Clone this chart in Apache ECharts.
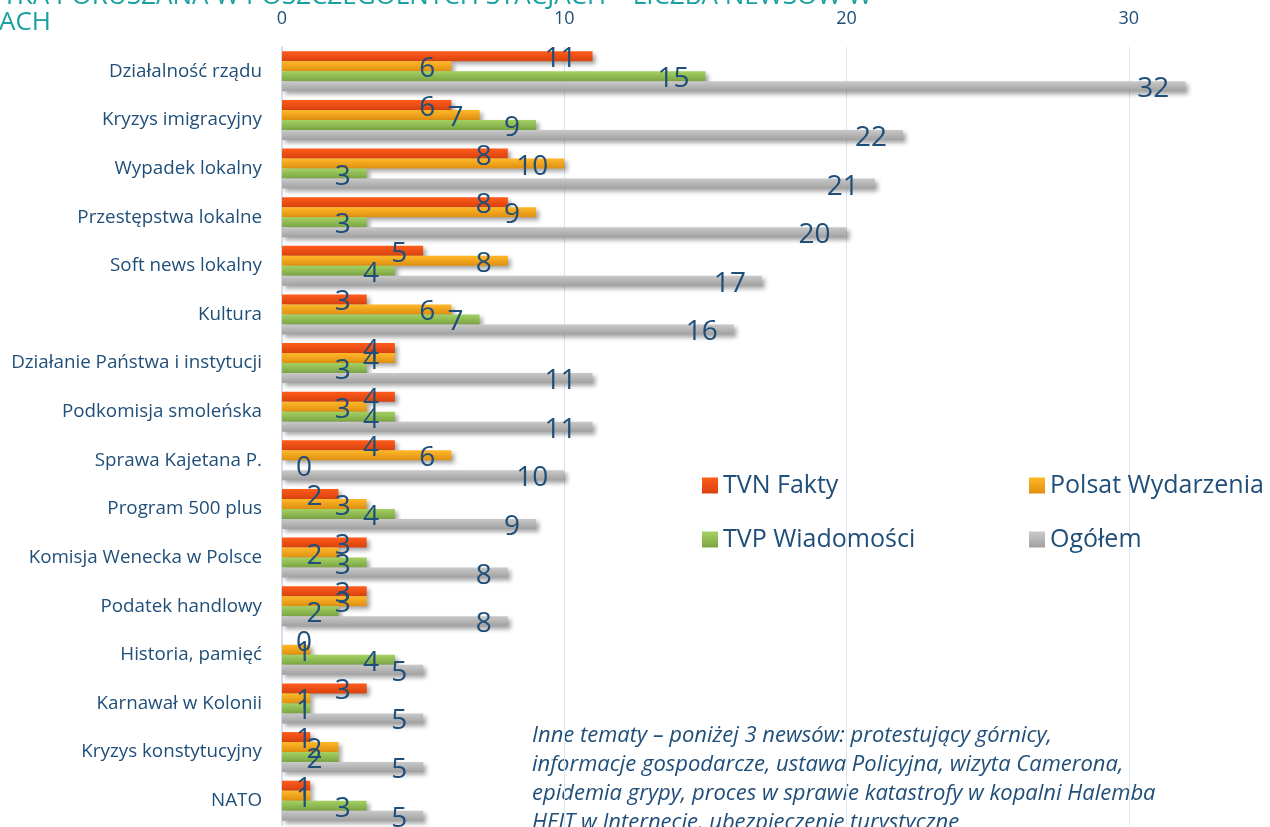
<!DOCTYPE html>
<html>
<head>
<meta charset="utf-8">
<script src="https://cdn.jsdelivr.net/npm/echarts@6/dist/echarts.min.js"></script>
<style>
  html, body { margin: 0; padding: 0; background: #fff; }
  #news-chart { width: 1270px; height: 827px; }
</style>
</head>
<body>
<div id="news-chart"></div>
<script>
var categories = ['Działalność rządu', 'Kryzys imigracyjny', 'Wypadek lokalny', 'Przestępstwa lokalne',
    'Soft news lokalny', 'Kultura', 'Działanie Państwa i instytucji', 'Podkomisja smoleńska',
    'Sprawa Kajetana P.', 'Program 500 plus', 'Komisja Wenecka w Polsce', 'Podatek handlowy',
    'Historia, pamięć', 'Karnawał w Kolonii', 'Kryzys konstytucyjny', 'NATO'];
var tvnFakty = [11, 6, 8, 8, 5, 3, 4, 4, 4, 2, 3, 3, 0, 3, 1, 1];
var polsatWydarzenia = [6, 7, 10, 9, 8, 6, 4, 3, 6, 3, 2, 3, 1, 1, 2, 1];
var tvpWiadomosci = [15, 9, 3, 3, 4, 7, 3, 4, 0, 4, 3, 2, 4, 1, 2, 3];
var ogolem = [32, 22, 21, 20, 17, 16, 11, 11, 10, 9, 8, 8, 5, 5, 5, 5];
var axisTicks = [0, 10, 20, 30];

var textBlue = '#1f4e79';
var font = '"Open Sans", "Noto Sans", sans-serif';

function grad(top, bottom) {
    return new echarts.graphic.LinearGradient(0, 0, 0, 1, [
        { offset: 0, color: top },
        { offset: 1, color: bottom }
    ]);
}

// small bars get their label pushed to the start, like in the original
function withLabels(values) {
    return values.map(function (v) {
        if (v < 2) {
            return { value: v, label: { position: 'insideLeft', distance: 14 } };
        }
        return v;
    });
}

function makeSeries(name, values, top, bottom) {
    return {
        name: name,
        type: 'bar',
        barWidth: 10,
        barGap: '0%',
        data: withLabels(values),
        itemStyle: {
            color: grad(top, bottom),
            shadowColor: 'rgba(0,0,0,0.35)',
            shadowBlur: 4,
            shadowOffsetX: 3,
            shadowOffsetY: 3
        },
        label: {
            show: true,
            position: 'insideRight',
            distance: 16,
            offset: [0, 3],
            color: textBlue,
            fontSize: 28,
            fontFamily: font
        }
    };
}

var dom = document.getElementById('news-chart');
var myChart = echarts.init(dom);

var legendBase = {
    orient: 'horizontal',
    itemWidth: 16,
    itemHeight: 16,
    icon: 'rect',
    textStyle: { color: textBlue, fontSize: 25, fontFamily: font }
};

var option = {
    animation: false,
    grid: { left: 282, right: 0, top: 47, bottom: 2 },
    legend: [
        Object.assign({ data: ['TVN Fakty'], left: 697, top: 468 }, legendBase),
        Object.assign({ data: ['Polsat Wydarzenia'], left: 1024, top: 468 }, legendBase),
        Object.assign({ data: ['TVP Wiadomości'], left: 697, top: 522 }, legendBase),
        Object.assign({ data: ['Ogółem'], left: 1024, top: 522 }, legendBase)
    ],
    xAxis: {
        type: 'value',
        position: 'top',
        min: axisTicks[0],
        max: 35,
        interval: axisTicks[1] - axisTicks[0],
        axisLine: { show: false },
        axisTick: { show: false },
        axisLabel: {
            color: textBlue,
            fontSize: 18,
            fontFamily: font,
            margin: 19,
            showMaxLabel: false
        },
        splitLine: { lineStyle: { color: '#d9e4f2', width: 1 } }
    },
    yAxis: {
        type: 'category',
        inverse: true,
        data: categories,
        axisLine: { lineStyle: { color: '#d3dff0', width: 2 } },
        axisTick: { show: false },
        axisLabel: {
            color: textBlue,
            fontSize: 18.8,
            fontFamily: font,
            margin: 20
        }
    },
    graphic: [
        {
            type: 'text', x: 872, y: 10,
            style: {
                text: 'TEMATYKA PORUSZANA W POSZCZEGÓLNYCH STACJACH – LICZBA NEWSÓW W',
                fill: '#19a0a0', fontSize: 26, fontFamily: font,
                textAlign: 'right', align: 'right', textVerticalAlign: 'bottom', verticalAlign: 'bottom'
            }
        },
        {
            type: 'text', x: 51, y: 36,
            style: {
                text: 'SERWISACH',
                fill: '#19a0a0', fontSize: 26, fontFamily: font,
                textAlign: 'right', align: 'right', textVerticalAlign: 'bottom', verticalAlign: 'bottom'
            }
        },
        {
            type: 'text', x: 532, y: 721,
            style: {
                text: 'Inne tematy – poniżej 3 newsów: protestujący górnicy,\n' +
                    'informacje gospodarcze, ustawa Policyjna, wizyta Camerona,\n' +
                    'epidemia grypy, proces w sprawie katastrofy w kopalni Halemba\n' +
                    'HEJT w Internecie, ubezpieczenie turystyczne',
                fill: textBlue, fontSize: 22, fontStyle: 'italic', fontFamily: font,
                lineHeight: 29
            }
        }
    ],
    series: [
        makeSeries('TVN Fakty', tvnFakty, '#ff5c1b', '#d8420e'),
        makeSeries('Polsat Wydarzenia', polsatWydarzenia, '#ffb829', '#df8f10'),
        makeSeries('TVP Wiadomości', tvpWiadomosci, '#a4d162', '#7ba443'),
        makeSeries('Ogółem', ogolem, '#c9c9c9', '#a1a1a1')
    ]
};

if (option && typeof option === 'object') {
    myChart.setOption(option, true);
}
</script>
</body>
</html>
